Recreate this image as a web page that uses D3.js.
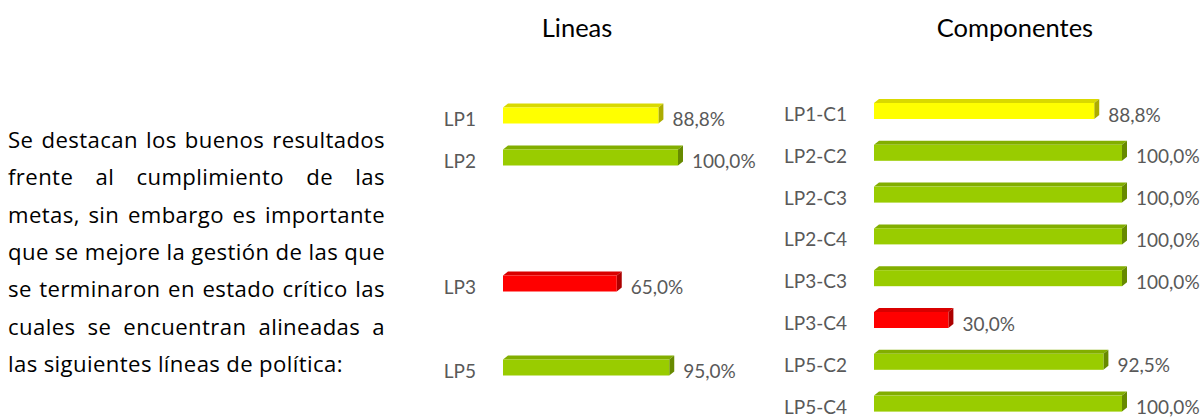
<!DOCTYPE html>
<html>
<head>
<meta charset="utf-8">
<script src="https://cdn.jsdelivr.net/npm/d3@7"></script>
<style>
  body { margin: 0; background: #fff; }
  svg text { font-family: Lato, "Open Sans", sans-serif; }
</style>
</head>
<body>
<svg id="chart" width="1202" height="418"></svg>
<script>
// texto de la izquierda, una entrada por renglon
var paragraph = [
    "Se destacan los buenos resultados",
    "frente al cumplimiento de las",
    "metas, sin embargo es importante",
    "que se mejore la gestión de las que",
    "se terminaron en estado crítico las",
    "cuales se encuentran alineadas a",
    "las siguientes líneas de política:"
];

// Lineas (los huecos vacios son posiciones sin barra)
var lineCats = ["LP1", "LP2", "", "", "LP3", "", "LP5"];
var lineValues = [88.8, 100, null, null, 65, null, 95];
var lineStatus = ["amarillo", "verde", null, null, "rojo", null, "verde"];

// Componentes
var compCats = ["LP1-C1", "LP2-C2", "LP2-C3", "LP2-C4", "LP3-C3", "LP3-C4", "LP5-C2", "LP5-C4"];
var compValues = [88.8, 100, 100, 100, 100, 30, 92.5, 100];
var compStatus = ["amarillo", "verde", "verde", "verde", "verde", "rojo", "verde", "verde"];

var palette = { verde: "#99CC00", amarillo: "#FFFF00", rojo: "#FF0000" };

var svg = d3.select("#chart");

// parrafo justificado: el tamaño se ajusta para que el renglon mas largo quepa
var pX0 = 8, pX1 = 385, pY = 148, pStep = 37.3, space = 6;

function layoutParagraph(size) {
    svg.selectAll(".parr").remove();
    var worst = 0;
    paragraph.forEach(function(line, k) {
        var words = line.split(" ");
        var t = svg.append("text")
            .attr("class", "parr")
            .attr("y", pY + k * pStep)
            .attr("font-size", size)
            .attr("letter-spacing", 0.4)
            .style("font-family", "'Open Sans', sans-serif")
            .attr("fill", "#000");
        var spans = words.map(function(w) { return t.append("tspan").text(w); });
        var widths = spans.map(function(s) { return s.node().getComputedTextLength(); });
        var total = d3.sum(widths);
        worst = Math.max(worst, (total + space * (words.length - 1)) / (pX1 - pX0));
        var last = k === paragraph.length - 1;
        var gap = last ? space : Math.max(3, (pX1 - pX0 - total) / (words.length - 1));
        var cx = pX0;
        spans.forEach(function(s, i) {
            s.attr("x", cx);
            cx += widths[i] + gap;
        });
    });
    return worst;
}
var ratio = layoutParagraph(22);
layoutParagraph(22 / ratio);

var fmt = function(v) { return d3.format(".1f")(v).replace(".", ",") + "%"; };

function drawPanel(opt) {
    var x = d3.scaleLinear().domain([0, 100]).range([opt.x0, opt.x1]);
    var n = opt.cats.length;
    var y = d3.scaleBand()
        .domain(d3.range(n))
        .range([opt.yc - opt.step / 2, opt.yc - opt.step / 2 + opt.step * n]);

    svg.append("text")
        .attr("x", opt.titleX)
        .attr("y", 37)
        .attr("text-anchor", "middle")
        .attr("font-size", 25.5)
        .attr("fill", "#000")
        .text(opt.title);

    var axis = d3.axisLeft(y)
        .tickSize(0)
        .tickPadding(opt.pad)
        .tickFormat(function(i) { return opt.cats[i]; });

    var ga = svg.append("g")
        .attr("transform", "translate(" + opt.x0 + ",0)")
        .call(axis);
    ga.select(".domain").remove();
    ga.attr("font-family", null).attr("font-size", null);
    ga.selectAll("text")
        .attr("font-size", 19)
        .attr("fill", "#595959");

    var idx = d3.range(n).filter(function(i) { return opt.values[i] != null; });
    var h = 16, dx = 5, dy = 4;

    var bars = svg.append("g").selectAll("g")
        .data(idx)
        .enter().append("g");

    function yf(i) { return y(i) + y.bandwidth() / 2 - 4 - h / 2; }
    function xe(i) { return x(opt.values[i]); }
    function col(i) { return palette[opt.status[i]]; }

    bars.append("path")
        .attr("d", function(i) {
            var a = yf(i), e = xe(i);
            return "M" + opt.x0 + "," + a + "L" + (opt.x0 + dx) + "," + (a - dy) +
                "L" + (e + dx) + "," + (a - dy) + "L" + e + "," + a + "Z";
        })
        .attr("fill", function(i) { return d3.color(col(i)).darker(0.45); });

    bars.append("path")
        .attr("d", function(i) {
            var a = yf(i), e = xe(i);
            return "M" + e + "," + a + "L" + (e + dx) + "," + (a - dy) +
                "L" + (e + dx) + "," + (a + h - dy) + "L" + e + "," + (a + h) + "Z";
        })
        .attr("fill", function(i) { return d3.color(col(i)).darker(1.1); });

    bars.append("rect")
        .attr("x", opt.x0)
        .attr("y", yf)
        .attr("width", function(i) { return xe(i) - opt.x0; })
        .attr("height", h)
        .attr("fill", col);

    bars.append("text")
        .attr("x", function(i) { return xe(i) + dx + 9; })
        .attr("y", function(i) { return y(i) + y.bandwidth() / 2; })
        .attr("dy", "0.35em")
        .attr("font-size", 19)
        .attr("fill", "#595959")
        .text(function(i) { return fmt(opt.values[i]); });
}

drawPanel({
    title: "Lineas", titleX: 577,
    cats: lineCats, values: lineValues, status: lineStatus,
    x0: 503, x1: 678, yc: 119.5, step: 42, pad: 27
});

drawPanel({
    title: "Componentes", titleX: 1015,
    cats: compCats, values: compValues, status: compStatus,
    x0: 874, x1: 1122, yc: 115, step: 41.8, pad: 27
});
</script>
</body>
</html>
